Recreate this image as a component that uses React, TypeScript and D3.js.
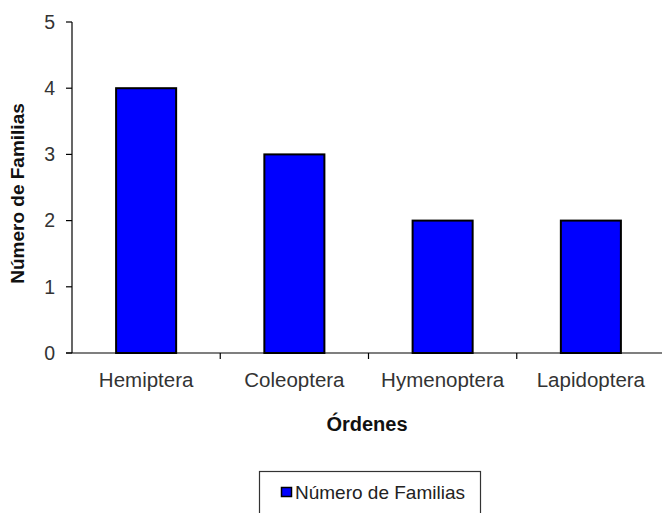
import React from "react";
import * as d3 from "d3";

const categories = ["Hemiptera", "Coleoptera", "Hymenoptera", "Lapidoptera"];
const values = [4, 3, 2, 2];
const yTicks = [0, 1, 2, 3, 4, 5];
const seriesName = "Número de Familias";
const xTitle = "Órdenes";
const yTitle = "Número de Familias";

export default function App() {
  const W = 662, H = 513;
  const x0 = 72, x1 = 665, yBase = 353, yTop = 22;
  const x = d3.scaleBand<string>().domain(categories).range([x0, x1]).paddingInner(0.595).paddingOuter(0.2975);
  const y = d3.scaleLinear().domain([0, 5]).range([yBase, yTop]);
  const step = x.step();
  const font = "Arial, 'Liberation Sans', sans-serif";
  return (
    <svg width={W} height={H} style={{ position: "absolute", left: 0, top: 0, background: "#fff" }}>
      {categories.map((c, i) => (
        <rect key={c} x={x(c)!} y={y(values[i])} width={x.bandwidth()} height={yBase - y(values[i])}
          fill="#0000ff" stroke="#000" strokeWidth={2} />
      ))}
      <line x1={x0} x2={x0} y1={yTop} y2={yBase} stroke="#000" strokeWidth={1.2} />
      <line x1={x0 - 6} x2={x1} y1={yBase} y2={yBase} stroke="#000" strokeWidth={1.2} />
      {yTicks.map((t) => (
        <g key={t}>
          <line x1={x0 - 6} x2={x0} y1={y(t)} y2={y(t)} stroke="#000" strokeWidth={1.2} />
          <text x={55} y={y(t)} dy="0.35em" textAnchor="end" fontFamily={font} fontSize={19.5} fill="#333">{t}</text>
        </g>
      ))}
      {categories.slice(1).map((c) => (
        <line key={c} x1={x0 + step * categories.indexOf(c)} x2={x0 + step * categories.indexOf(c)} y1={yBase} y2={yBase + 6} stroke="#000" strokeWidth={1.2} />
      ))}
      {categories.map((c) => (
        <text key={c} x={x(c)! + x.bandwidth() / 2} y={387} textAnchor="middle" fontFamily={font} fontSize={20.5} fill="#333">{c}</text>
      ))}
      <text x={367} y={431} textAnchor="middle" fontFamily={font} fontSize={20} fontWeight="bold" fill="#111">{xTitle}</text>
      <text transform={`translate(24, ${(yTop + yBase) / 2 + 6}) rotate(-90)`} textAnchor="middle" fontFamily={font} fontSize={19} fontWeight="bold" fill="#111">{yTitle}</text>
      <rect x={259.5} y={471.5} width={221} height={50} fill="#fff" stroke="#333" strokeWidth={1.2} />
      <rect x={281.5} y={487.5} width={10} height={9} fill="#0000ff" stroke="#000" strokeWidth={1.5} />
      <text x={295} y={499} fontFamily={font} fontSize={19} fill="#222">{seriesName}</text>
    </svg>
  );
}
